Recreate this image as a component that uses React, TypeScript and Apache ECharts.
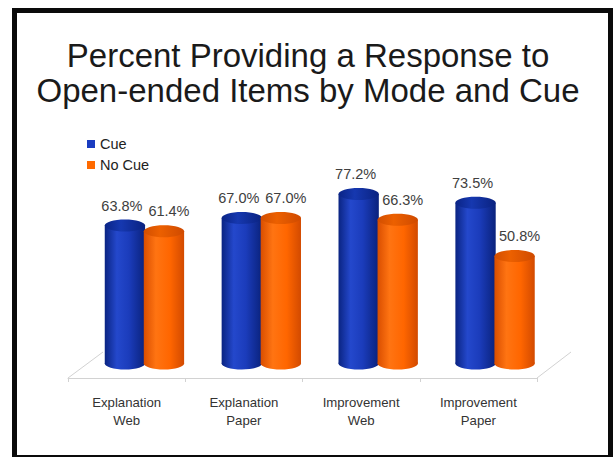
import React, { useEffect, useRef } from "react";
import * as echarts from "echarts";

const categories = ["Explanation\nWeb", "Explanation\nPaper", "Improvement\nWeb", "Improvement\nPaper"];
const seriesNames = ["Cue", "No Cue"];
const cueValues = [63.8, 67.0, 77.2, 73.5];
const noCueValues = [61.4, 67.0, 66.3, 50.8];
const titleLines = ["Percent Providing a Response to", "Open-ended Items by Mode and Cue"];

const FONT = "'Liberation Sans', Arial, sans-serif";

const palettes = [
  {
    legend: "#1a3cc0",
    body: [
      [0, "#0a2482"],
      [0.3, "#2448cc"],
      [0.6, "#1b3cbb"],
      [1, "#0a227c"],
    ],
    top: [
      [0, "#0a2486"],
      [0.4, "#1638b0"],
      [1, "#0a2280"],
    ],
  },
  {
    legend: "#ff6a00",
    body: [
      [0, "#d94e00"],
      [0.3, "#ff7412"],
      [0.65, "#ff6600"],
      [1, "#d24a00"],
    ],
    top: [
      [0, "#d24e00"],
      [0.4, "#ec6000"],
      [1, "#cf4a00"],
    ],
  },
];

function grad(stops: any[]) {
  return new echarts.graphic.LinearGradient(
    0,
    0,
    1,
    0,
    stops.map(([offset, color]) => ({ offset, color }))
  );
}

function makeRender(sIdx: number) {
  return (params: any, api: any) => {
    const ci = api.value(0);
    const v = api.value(1);
    const top = api.coord([ci, v]);
    const base = api.coord([ci, 0]);
    const band = api.size([1, 0])[0];
    const w = band * 0.345;
    const rx = w / 2;
    const ry = 6;
    const cx = top[0] + (sIdx === 0 ? -1 : 1) * band * 0.167;
    const topC = top[1] + ry;
    const botC = base[1] - ry;
    const pal = palettes[sIdx];
    return {
      type: "group",
      children: [
        {
          type: "ellipse",
          shape: { cx, cy: botC, rx, ry },
          style: { fill: grad(pal.body) },
        },
        {
          type: "rect",
          shape: { x: cx - rx, y: topC, width: w, height: botC - topC },
          style: { fill: grad(pal.body) },
        },
        {
          type: "ellipse",
          shape: { cx, cy: topC, rx, ry },
          style: { fill: grad(pal.top) },
        },
        {
          type: "text",
          x: cx + (sIdx === 0 ? -3 : 5),
          y: top[1] - 14,
          style: {
            text: v.toFixed(1) + "%",
            fill: "#404040",
            font: `14.5px ${FONT}`,
            align: "center",
            verticalAlign: "middle",
          },
        },
      ],
    };
  };
}

export default function App() {
  const ref = useRef<HTMLDivElement>(null);
  useEffect(() => {
    if (!ref.current) return;
    const chart = echarts.init(ref.current, null, { renderer: "svg" });
    const frame = "#0a0a0a";
    const floor = "#d2d2d2";
    chart.setOption({
      animation: false,
      backgroundColor: "#ffffff",
      title: {
        text: titleLines.join("\n"),
        left: "center",
        top: 33,
        textStyle: {
          fontFamily: FONT,
          fontSize: 33,
          fontWeight: "normal",
          lineHeight: 35,
          color: "#1a1a1a",
        },
      },
      legend: {
        data: seriesNames,
        orient: "vertical",
        left: 82,
        top: 131,
        icon: "rect",
        itemWidth: 8,
        itemHeight: 8,
        itemGap: 5,
        textStyle: { fontFamily: FONT, fontSize: 14.5, color: "#222222", lineHeight: 16 },
      },
      grid: [
        { left: 86, right: 62.5, top: 134.5, bottom: 87.5 },
        { left: 68, right: 79, top: 134.5, bottom: 79 },
      ],
      xAxis: [
        { type: "category", data: categories, gridIndex: 0, show: false },
        {
          type: "category",
          data: categories,
          gridIndex: 1,
          axisLine: { lineStyle: { color: floor, width: 1 } },
          axisTick: { show: true, length: 4, lineStyle: { color: floor } },
          axisLabel: {
            fontFamily: FONT,
            fontSize: 13.2,
            color: "#333333",
            lineHeight: 18,
            margin: 15,
            interval: 0,
          },
        },
      ],
      yAxis: [
        { type: "value", min: 0, max: 100, gridIndex: 0, show: false },
        { type: "value", min: 0, max: 100, gridIndex: 1, show: false },
      ],
      graphic: [
        { type: "line", shape: { x1: 68, y1: 378, x2: 103, y2: 352 }, style: { stroke: floor, lineWidth: 1 }, z: 0 },
        { type: "line", shape: { x1: 537, y1: 378, x2: 571, y2: 352 }, style: { stroke: floor, lineWidth: 1 }, z: 0 },
        { type: "rect", shape: { x: 12, y: 8, width: 5, height: 449 }, style: { fill: frame } },
        { type: "rect", shape: { x: 12, y: 8, width: 601, height: 5 }, style: { fill: frame } },
        { type: "rect", shape: { x: 608, y: 8, width: 5, height: 449 }, style: { fill: frame } },
        { type: "rect", shape: { x: 12, y: 455, width: 601, height: 2 }, style: { fill: frame } },
      ],
      series: [
        {
          name: seriesNames[0],
          type: "custom",
          xAxisIndex: 0,
          yAxisIndex: 0,
          itemStyle: { color: palettes[0].legend },
          encode: { x: 0, y: 1 },
          data: cueValues.map((v, i) => [i, v]),
          renderItem: makeRender(0),
        },
        {
          name: seriesNames[1],
          type: "custom",
          xAxisIndex: 0,
          yAxisIndex: 0,
          itemStyle: { color: palettes[1].legend },
          encode: { x: 0, y: 1 },
          data: noCueValues.map((v, i) => [i, v]),
          renderItem: makeRender(1),
        },
        {
          type: "line",
          xAxisIndex: 1,
          yAxisIndex: 1,
          data: [],
          silent: true,
        },
      ],
    });
    return () => chart.dispose();
  }, []);
  return (
    <div
      ref={ref}
      style={{ position: "absolute", left: 0, top: 0, width: 616, height: 457 }}
    />
  );
}
